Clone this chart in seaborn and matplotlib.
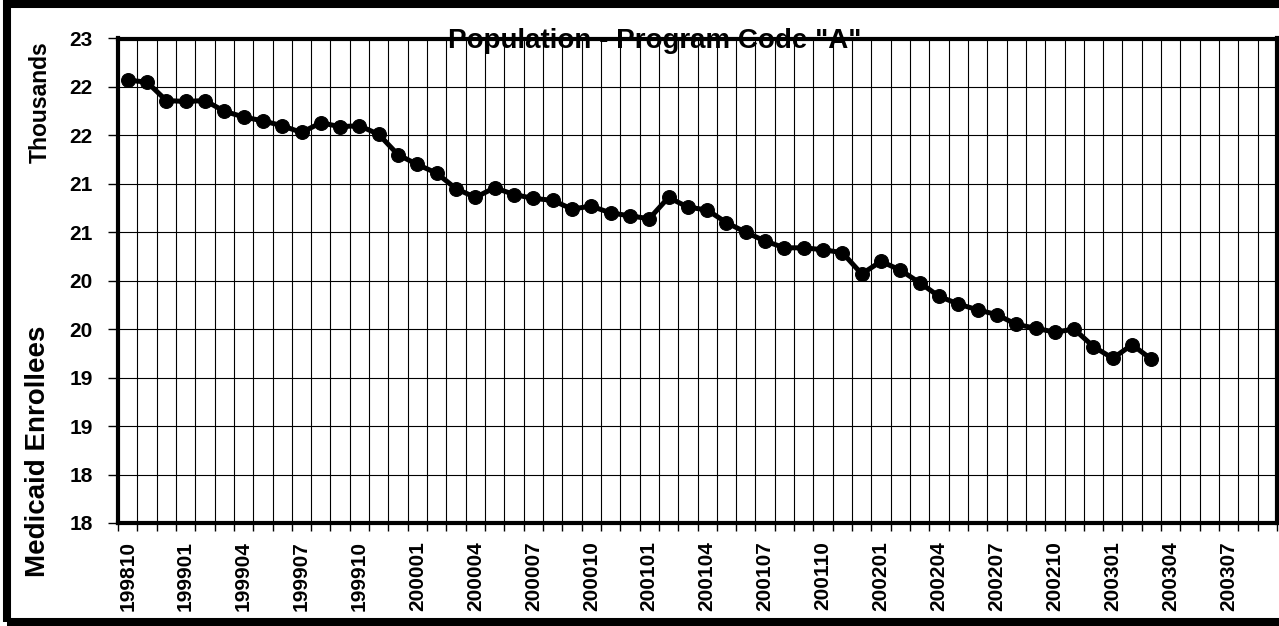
"""
plot.py — Medicaid enrollees, program code "A", monthly line chart.
"""

import numpy as np
import pandas as pd
import matplotlib
matplotlib.use("Agg")
import matplotlib.pyplot as plt
from matplotlib import font_manager
from matplotlib.patches import Rectangle
from matplotlib.ticker import FixedLocator, FixedFormatter
import seaborn as sns

# ── Data ──────────────────────────────────────────────────────────────────────
months = [str(p).replace("-", "") for p in pd.period_range("1998-10", "2003-09", freq="M")]

enrollees_k = [
    22.57, 22.55, 22.36, 22.35, 22.36, 22.25, 22.19, 22.15, 22.10, 22.03,
    22.13, 22.09, 22.10, 22.01, 21.80, 21.70, 21.61, 21.45, 21.36, 21.46,
    21.39, 21.35, 21.33, 21.24, 21.27, 21.20, 21.17, 21.14, 21.36, 21.26,
    21.23, 21.10, 21.00, 20.91, 20.84, 20.84, 20.82, 20.79, 20.57, 20.70,
    20.61, 20.48, 20.34, 20.26, 20.20, 20.15, 20.05, 20.01, 19.97, 20.00,
    19.82, 19.70, 19.84, 19.69,
]

ytick_values = [18.0, 18.5, 19.0, 19.5, 20.0, 20.5, 21.0, 21.5, 22.0, 22.5, 23.0]
ytick_labels = ["18", "18", "19", "19", "20", "20", "21", "21", "22", "22", "23"]

title = 'Population - Program Code "A"'
ylabel_top = "Thousands"
ylabel_main = "Medicaid Enrollees"


def pick_bold_family():
    # first Arial-like family that really has a bold face installed
    for fam in ["Liberation Sans", "Arimo", "Roboto", "Noto Sans", "DejaVu Sans"]:
        try:
            path = font_manager.findfont(
                font_manager.FontProperties(family=fam, weight="bold"),
                fallback_to_default=False)
        except Exception:
            continue
        if "bold" in path.lower():
            return fam, path
    return "DejaVu Sans", None


# ── Figure ────────────────────────────────────────────────────────────────────
sns.set_style("white")
fam, bold_path = pick_bold_family()
plt.rcParams["font.family"] = [fam, "DejaVu Sans"]
plt.rcParams["font.weight"] = "bold"
for key in ["text.color", "axes.labelcolor", "xtick.color", "ytick.color"]:
    plt.rcParams[key] = "black"

if bold_path:
    bold = font_manager.FontProperties(fname=bold_path)
else:
    bold = font_manager.FontProperties(family=fam, weight="bold")

W, H = 1279, 626
fig = plt.figure(figsize=(W / 100, H / 100), dpi=100)
ax = fig.add_axes([118 / W, 1 - 523 / H, (1277 - 118) / W, (523 - 38.5) / H])

df = pd.DataFrame({"idx": np.arange(len(enrollees_k)), "value": enrollees_k})
sns.lineplot(
    data=df, x="idx", y="value", ax=ax, color="black",
    linewidth=3.6, marker="o", markersize=10,
    markeredgecolor="black", markerfacecolor="black", zorder=5,
)

n_cat = len(months)
ax.set_xlim(-0.5, n_cat - 0.5)
ax.set_ylim(ytick_values[0], ytick_values[-1])

# x: labels every 3rd month at category centres, tick marks on boundaries
label_pos = np.arange(0, n_cat, 3)
ax.xaxis.set_major_locator(FixedLocator(label_pos))
ax.xaxis.set_major_formatter(FixedFormatter([months[i] for i in label_pos]))
ax.xaxis.set_minor_locator(FixedLocator(np.arange(n_cat + 1) - 0.5))
ax.tick_params(axis="x", which="major", length=0, pad=13, labelrotation=90)
ax.tick_params(axis="x", which="minor", length=6, width=1, direction="out",
               color="black", bottom=True)

ax.yaxis.set_major_locator(FixedLocator(ytick_values))
ax.yaxis.set_major_formatter(FixedFormatter(ytick_labels))
ax.tick_params(axis="y", which="major", length=7, width=1, direction="out",
               pad=11, left=True)

for lab in ax.get_xticklabels() + ax.get_yticklabels():
    lab.set_fontproperties(bold)
    lab.set_fontsize(15)
    lab.set_color("black")

ax.grid(False)
ax.grid(which="minor", axis="x", color="black", linewidth=0.8)
ax.grid(which="major", axis="y", color="black", linewidth=0.8)
ax.set_axisbelow(True)

for sp in ax.spines.values():
    sp.set_visible(True)
    sp.set_color("black")
    sp.set_linewidth(3)
    sp.set_zorder(6)

ax.set_xlabel("")
ax.set_ylabel("")

# ── Text ──────────────────────────────────────────────────────────────────────
fig.text(655 / W, 1 - 48 / H, title, ha="center", va="baseline",
         fontproperties=bold, fontsize=20, color="black", zorder=10)
fig.text(40 / W, 1 - 102 / H, ylabel_top, ha="center", va="center",
         rotation=90, fontproperties=bold, fontsize=16.5, color="black")
fig.text(38 / W, 1 - 451 / H, ylabel_main, ha="center", va="center",
         rotation=90, fontproperties=bold, fontsize=20, color="black")

# chart-area frame (cropped on the right in the original)
fig.add_artist(Rectangle((7 / W, 4 / H), 1.5, 1 - 8 / H,
                         transform=fig.transFigure, fill=False,
                         edgecolor="black", linewidth=5.8, clip_on=False))

fig.savefig("out.png", dpi=100)
plt.close(fig)
